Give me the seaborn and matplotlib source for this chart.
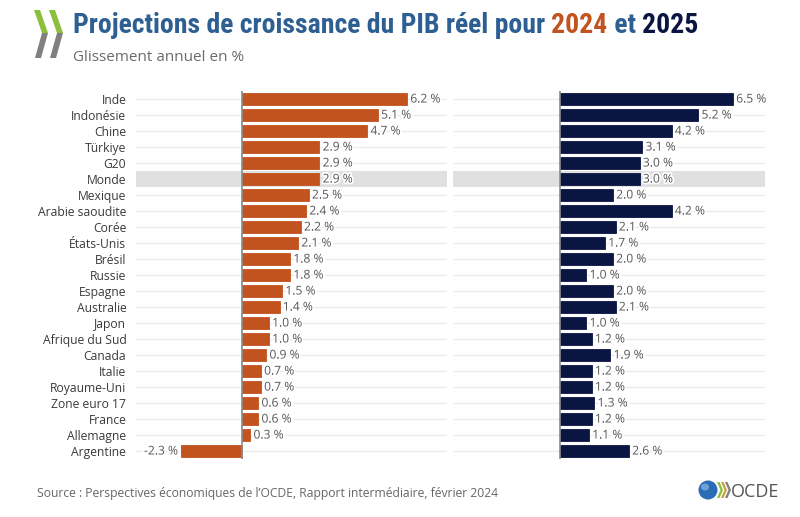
import matplotlib
matplotlib.use("Agg")
import matplotlib.pyplot as plt
import matplotlib.patheffects as pe
from matplotlib import font_manager as fm
from matplotlib.patches import Polygon, Ellipse
import seaborn as sns
import pandas as pd

countries = ["Inde", "Indonésie", "Chine", "Türkiye", "G20", "Monde", "Mexique",
             "Arabie saoudite", "Corée", "États-Unis", "Brésil", "Russie", "Espagne",
             "Australie", "Japon", "Afrique du Sud", "Canada", "Italie", "Royaume-Uni",
             "Zone euro 17", "France", "Allemagne", "Argentine"]
g2024 = [6.2, 5.1, 4.7, 2.9, 2.9, 2.9, 2.5, 2.4, 2.2, 2.1, 1.8, 1.8, 1.5, 1.4,
         1.0, 1.0, 0.9, 0.7, 0.7, 0.6, 0.6, 0.3, -2.3]
g2025 = [6.5, 5.2, 4.2, 3.1, 3.0, 3.0, 2.0, 4.2, 2.1, 1.7, 2.0, 1.0, 2.0, 2.1,
         1.0, 1.2, 1.9, 1.2, 1.2, 1.3, 1.2, 1.1, 2.6]
highlight = "Monde"

C24 = "#c2531f"
C25 = "#0b1541"
BLUE = "#2e5f93"

sns.set_theme(style="white")
names = {f.name for f in fm.fontManager.ttflist}
narrow = None
for cand in ["Roboto Condensed", "Liberation Sans Narrow", "Open Sans Condensed", "DejaVu Sans Condensed"]:
    if cand in names:
        narrow = cand
        break
plt.rcParams["font.family"] = ["Open Sans", "DejaVu Sans"]

W, H = 800, 517
fig = plt.figure(figsize=(W / 100, H / 100), dpi=100)

def fx(px):
    return px / W

def fy(py):
    return 1 - py / H

top, bot = 91, 459
ax1 = fig.add_axes([fx(136), fy(bot), fx(447) - fx(136), fy(top) - fy(bot)])
ax2 = fig.add_axes([fx(453), fy(bot), fx(765) - fx(453), fy(top) - fy(bot)])

df = pd.DataFrame({"pays": countries, "2024": g2024, "2025": g2025})
hi = countries.index(highlight)

for ax, col, color in [(ax1, "2024", C24), (ax2, "2025", C25)]:
    for i in range(len(countries)):
        ax.axhline(i, color="#ebebeb", lw=1, zorder=0)
    ax.axhspan(hi - 0.5, hi + 0.5, color="#e0e0e0", zorder=0.5, lw=0)
    sns.barplot(data=df, x=col, y="pays", orient="h", color=color, width=0.75,
                ax=ax, zorder=2, saturation=1, edgecolor=color, linewidth=0.6)
    ax.axvline(0, color="#8a8a8a", lw=1.2, zorder=3)
    ax.set_xlim(-4.0, 7.7)
    ax.set_ylim(len(countries) - 0.5, -0.5)
    ax.set_xlabel("")
    ax.set_ylabel("")
    ax.set_xticks([])
    for s in ax.spines.values():
        s.set_visible(False)
    vals = df[col].tolist()
    for i, v in enumerate(vals):
        lab = f"{v:.1f} %"
        if v >= 0:
            ax.text(v + 0.12, i, lab, va="center", ha="left", fontsize=8.7,
                    color="#555555", zorder=4,
                    path_effects=[pe.withStroke(linewidth=2.5, foreground="white")])
        else:
            ax.text(v - 0.12, i, lab, va="center", ha="right", fontsize=8.7,
                    color="#555555", zorder=4,
                    path_effects=[pe.withStroke(linewidth=2.5, foreground="white")])

ax1.tick_params(axis="y", length=0, pad=7, labelsize=8.7, labelcolor="#3a3a3a")
ax2.set_yticks([])

# Title in pieces
tkw = dict(fontsize=20, fontweight="bold")
if narrow:
    tkw["family"] = [narrow, "DejaVu Sans"]
else:
    tkw["fontstretch"] = "condensed"
t1 = fig.text(fx(73), fy(33), "Projections de croissance du PIB réel pour ", color=BLUE,
              va="baseline", ha="left", **tkw)
t2 = fig.text(0, 0, "2024", color=C24, va="baseline", ha="left", **tkw)
t3 = fig.text(0, 0, " et ", color=BLUE, va="baseline", ha="left", **tkw)
t4 = fig.text(0, 0, "2025", color=C25, va="baseline", ha="left", **tkw)
fig.canvas.draw()
r = fig.canvas.get_renderer()
prev = t1
for t in [t2, t3, t4]:
    bb = prev.get_window_extent(r)
    t.set_position((bb.x1 / W, fy(33)))
    fig.canvas.draw()
    prev = t

fig.text(fx(73), fy(61), "Glissement annuel en %", fontsize=11, color="#6b6b6b",
         va="baseline", ha="left")

# OECD chevrons top-left
green, grey = "#8dbf3f", "#808080"
for dx in [0, 15]:
    up = [(34 + dx, 10), (40 + dx, 10), (48 + dx, 33), (42 + dx, 33)]
    lo = [(42 + dx, 33), (48 + dx, 33), (41 + dx, 58), (35 + dx, 58)]
    fig.patches.append(Polygon([(fx(a), fy(b)) for a, b in up], closed=True,
                               transform=fig.transFigure, facecolor=green, lw=0))
    fig.patches.append(Polygon([(fx(a), fy(b)) for a, b in lo], closed=True,
                               transform=fig.transFigure, facecolor=grey, lw=0))

fig.text(fx(37), fy(497), "Source : Perspectives économiques de l’OCDE, Rapport intermédiaire, février 2024",
         fontsize=8.7, color="#666666", va="baseline", ha="left")

# OECD logo bottom-right
fig.patches.append(Ellipse((fx(708), fy(490)), 19 / W, 19 / H, transform=fig.transFigure,
                           facecolor="#2a6db5", lw=0))
fig.patches.append(Ellipse((fx(705), fy(487)), 8 / W, 7 / H, transform=fig.transFigure,
                           facecolor="#6fa3d8", lw=0))
for k, dx in enumerate([0, 4, 8]):
    pts = [(717 + dx, 482), (719.5 + dx, 482), (723 + dx, 490), (719.5 + dx, 498), (717 + dx, 498), (720.5 + dx, 490)]
    fig.patches.append(Polygon([(fx(a), fy(b)) for a, b in pts], closed=True,
                               transform=fig.transFigure,
                               facecolor=["#8dbf3f", "#c8a23a", "#808080"][k], lw=0))
fig.text(fx(731), fy(497), "OCDE", fontsize=13, color="#555555", va="baseline", ha="left")

fig.savefig("out.png", dpi=100)
